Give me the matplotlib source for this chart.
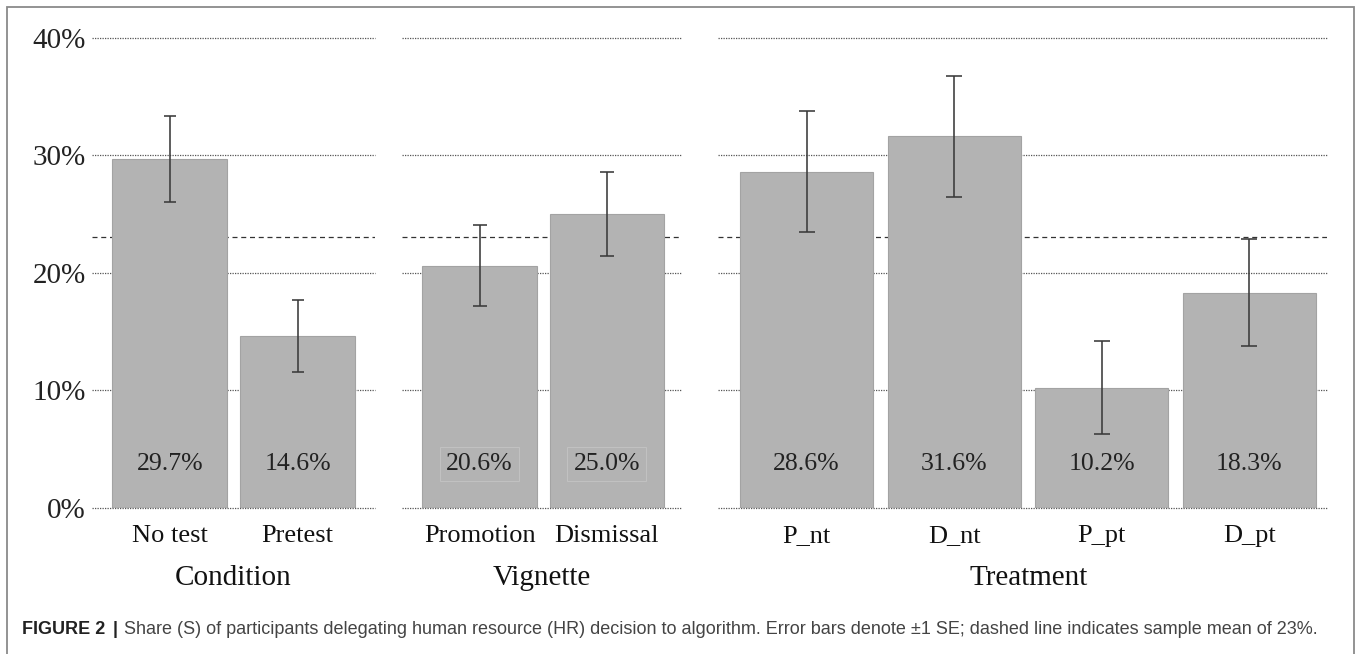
import matplotlib
matplotlib.use("Agg")
import matplotlib.pyplot as plt
from matplotlib.patches import Rectangle
from matplotlib.transforms import blended_transform_factory

# ---- data ----
conditions = ["No test", "Pretest"]
cond_vals = [29.7, 14.6]
cond_se = [3.65, 3.1]

vignettes = ["Promotion", "Dismissal"]
vig_vals = [20.6, 25.0]
vig_se = [3.47, 3.55]

treatments = ["P_nt", "D_nt", "P_pt", "D_pt"]
treat_vals = [28.6, 31.6, 10.2, 18.3]
treat_se = [5.12, 5.13, 3.96, 4.57]

panel_titles = ["Condition", "Vignette", "Treatment"]
yticks = [0, 10, 20, 30, 40]
ytick_labels = ["0%", "10%", "20%", "30%", "40%"]
sample_mean = 23

caption_bold = "FIGURE 2"
caption_rest = ("Share (S) of participants delegating human resource (HR) decision to algorithm. "
                "Error bars denote \u00b11 SE; dashed line indicates sample mean of 23%.")

# ---- layout ----
W, H = 1356, 654
fig = plt.figure(figsize=(W / 100, H / 100), dpi=100)
fig.patch.set_facecolor("white")

serif = ["Liberation Serif", "DejaVu Serif"]
sans = ["Liberation Sans", "DejaVu Sans"]

y0_px, y40_px = 507.5, 37.7
bottom = 1 - y0_px / H
height = (y0_px - y40_px) / H

panels = [
    dict(cats=conditions, vals=cond_vals, se=cond_se, left=92, right=375,
         xlim=(-0.607, 1.604), boxed=False, cap=4.4, title_dx=0),
    dict(cats=vignettes, vals=vig_vals, se=vig_se, left=402, right=681.5,
         xlim=(-0.611, 1.588), boxed=True, cap=4.8, title_dx=0),
    dict(cats=treatments, vals=treat_vals, se=treat_se, left=718, right=1327,
         xlim=(-0.601, 3.527), boxed=False, cap=5.8, title_dx=6),
]

bar_color = "#b3b3b3"
bar_edge = "#a3a3a3"
err_color = "#3a3a3a"

for i, p in enumerate(panels):
    ax = fig.add_axes([p["left"] / W, bottom, (p["right"] - p["left"]) / W, height])
    ax.set_xlim(*p["xlim"])
    ax.set_ylim(0, 40)
    for s in ax.spines.values():
        s.set_visible(False)
    ax.patch.set_alpha(0)
    # grid lines
    for yv in yticks:
        ax.axhline(yv, color="#555555", lw=0.9, linestyle=(0, (1, 1)),
                   zorder=2.5 if yv == 0 else 1, clip_on=False)
    ax.axhline(sample_mean, color="#333333", lw=0.9, linestyle=(0, (4, 3)), zorder=1)

    x = list(range(len(p["cats"])))
    ax.bar(x, p["vals"], width=0.9, color=bar_color, edgecolor=bar_edge, linewidth=0.8,
           zorder=2)
    ax.errorbar(x, p["vals"], yerr=p["se"], fmt="none", ecolor=err_color, elinewidth=1.15,
                capsize=p["cap"], capthick=1.15, zorder=3, clip_on=False)

    for xi, v in zip(x, p["vals"]):
        kw = {}
        if p["boxed"]:
            kw["bbox"] = dict(boxstyle="square,pad=0.25", facecolor="none",
                              edgecolor="#c4c4c4", linewidth=0.6)
        ax.text(xi, 3.7, f"{v:.1f}%", ha="center", va="center", fontsize=18.5,
                family=serif, color="#222222", zorder=4, **kw)

    ax.set_xticks(x)
    ax.set_xticklabels([])
    ax.tick_params(axis="both", length=0)
    trans = blended_transform_factory(ax.transData, ax.transAxes)
    for xi, c in zip(x, p["cats"]):
        ax.text(xi, -0.0728, c, ha="center", va="baseline", fontsize=19,
                family=serif, color="#111111", transform=trans)
    cx = 0.5 + p["title_dx"] / (p["right"] - p["left"])
    ax.text(cx, -0.165, panel_titles[i], ha="center", va="baseline", fontsize=21,
            family=serif, color="#111111", transform=ax.transAxes)

    ax.set_yticks(yticks)
    if i == 0:
        ax.set_yticklabels(ytick_labels, fontsize=21, family=serif, color="#222222")
        ax.tick_params(axis="y", pad=4.5)
    else:
        ax.set_yticklabels([])

# frame around figure (bottom edge outside image)
frame = Rectangle((7 / W, -0.05), (1354 - 7) / W, 1.05 - 7 / H, transform=fig.transFigure,
                  facecolor="none", edgecolor="#8a8a8a", linewidth=1.3, clip_on=False)
fig.patches.append(frame)

# caption
cap_y = 1 - 634 / H
cfs = 13
t1 = fig.text(22 / W, cap_y, caption_bold, fontsize=cfs, family=sans, weight="bold",
              color="#222222", va="baseline", ha="left")
fig.canvas.draw()
bb = t1.get_window_extent()
t2 = fig.text((bb.x1 + 7) / W, cap_y, "|", fontsize=cfs, family=sans, weight="bold",
              color="#222222", va="baseline", ha="left")
fig.canvas.draw()
bb2 = t2.get_window_extent()
fig.text((bb2.x1 + 7) / W, cap_y, caption_rest, fontsize=cfs, family=sans,
         color="#444444", va="baseline", ha="left")

fig.savefig("out.png", dpi=100)
